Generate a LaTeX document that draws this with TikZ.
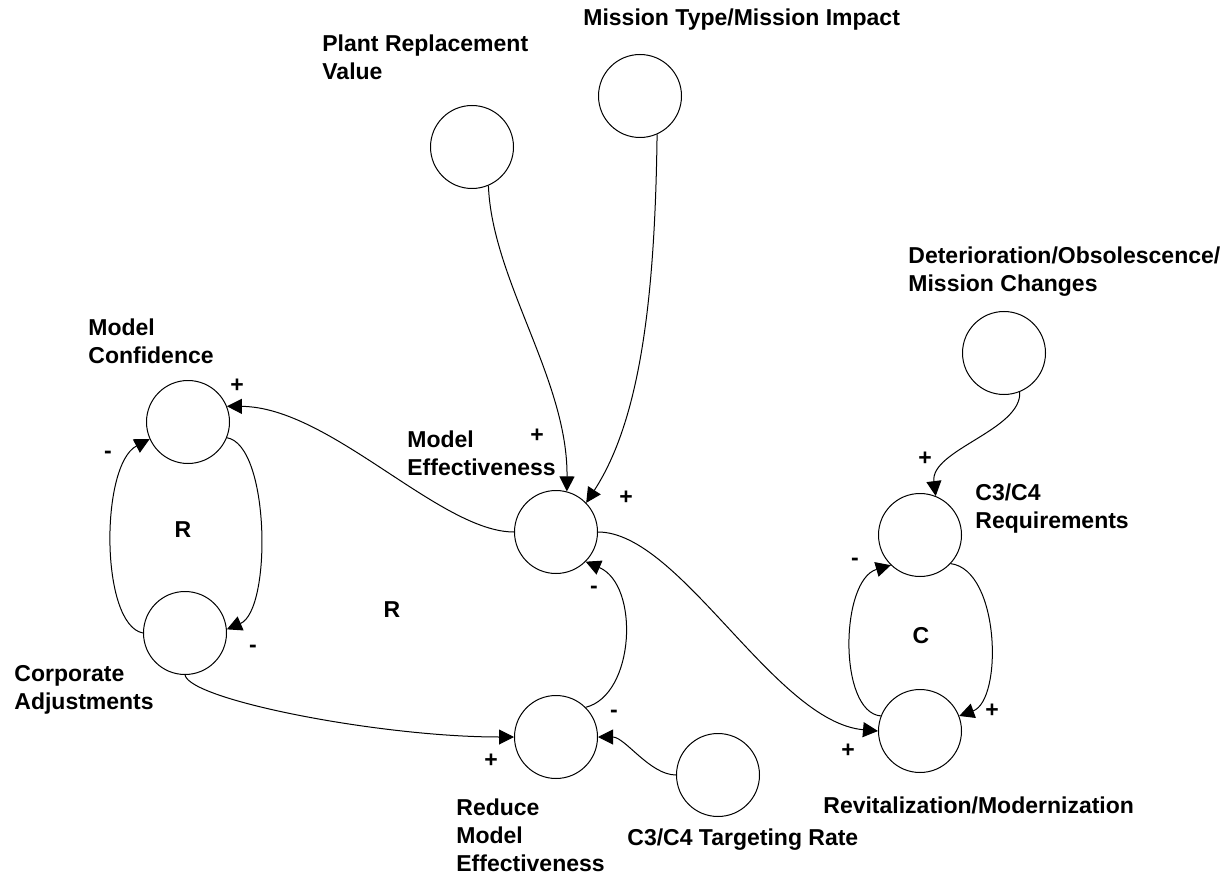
\documentclass[tikz,border=0pt]{standalone}
\usepackage{fontspec}
\setmainfont{Liberation Sans}
\usetikzlibrary{arrows.meta}
\begin{document}
\begin{tikzpicture}[x=0.5pt,y=-0.5pt,
  var/.style={circle,draw,line width=0.5pt,minimum size=41.5pt,inner sep=0pt},
  lbl/.style={anchor=west,align=left,inner sep=0pt,font=\fontsize{11.5}{14}\selectfont\bfseries},
  sgn/.style={inner sep=0pt,font=\fontsize{11.5}{14}\selectfont\bfseries},
  link/.style={line width=0.5pt,-{Triangle[length=7.5pt,width=7.5pt]}},
]
\useasboundingbox (0,0) rectangle (1226,877);

% variables
\node[var] (prv) at (472,147) {};
\node[var] (mt)  at (640,96)  {};
\node[var] (det) at (1004,353) {};
\node[var] (mc)  at (188,422) {};
\node[var] (me)  at (556,532) {};
\node[var] (req) at (920,535) {};
\node[var] (ca)  at (185,633) {};
\node[var] (rme) at (556,737) {};
\node[var] (tr)  at (718,775) {};
\node[var] (rev) at (920,731) {};

% variable names
\node[lbl] (prvL) at (322,57)  {Plant Replacement\\Value};
\node[lbl] (mtL)  at (583,20)  {Mission Type/Mission Impact};
\node[lbl] (detL) at (908,272) {Deterioration/Obsolescence/\\Mission Changes};
\node[lbl] (mcL)  at (88,341)  {Model\\Confidence};
\node[lbl] (meL)  at (407,453) {Model\\Effectiveness};
\node[lbl] (reqL) at (975,509) {C3/C4\\Requirements};
\node[lbl] (caL)  at (14,690)  {Corporate\\Adjustments};
\node[lbl] (rmeL) at (456,835) {Reduce\\Model\\Effectiveness};
\node[lbl] (trL)  at (627,840) {C3/C4 Targeting Rate};
\node[lbl] (revL) at (823,805) {Revitalization/Modernization};

% causal links
\draw[link] (me.180) .. controls (440,532) and (330,407) .. (mc.22);
\draw[link] (me.0) .. controls (680,532) and (775,722) .. (rev.180);
\draw[link] (prv.-67) .. controls (492,280) and (568,380) .. (me.75);
\draw[link] (mt.-66) .. controls (655,300) and (640,420) .. (me.44);
\draw[link] (det.-68) .. controls (1022,430) and (930,450) .. (req.68);
\draw[link] (mc.-22) .. controls (270,445) and (272,610) .. (ca.5);
\draw[link] (ca.180) .. controls (100,625) and (100,465) .. (mc.204);
\draw[link] (ca.-90) .. controls (190,700) and (380,737) .. (rme.180);
\draw[link] (tr.180) .. controls (650,775) and (625,737) .. (rme.0);
\draw[link] (rme.45) .. controls (635,695) and (640,585) .. (me.-45);
\draw[link] (rev.159) .. controls (838,712) and (840,580) .. (req.226);
\draw[link] (req.-43) .. controls (1000,570) and (1003,700) .. (rev.21);

% polarities
\node[sgn] (p1)  at (237,386) {+};
\node[sgn] (p2)  at (108,455) {-};
\node[sgn] (p3)  at (253,649) {-};
\node[sgn] (p4)  at (537,436) {+};
\node[sgn] (p5)  at (626,498) {+};
\node[sgn] (p6)  at (594,590) {-};
\node[sgn] (p7)  at (491,761) {+};
\node[sgn] (p8)  at (614,714) {-};
\node[sgn] (p9)  at (925,459) {+};
\node[sgn] (p10) at (855,562) {-};
\node[sgn] (p11) at (992,711) {+};
\node[sgn] (p12) at (848,751) {+};

% loop markers
\node[sgn] (loop1) at (183,530) {R};
\node[sgn] (loop2) at (392,610) {R};
\node[sgn] (loop3) at (921,636) {C};
\end{tikzpicture}
\end{document}
